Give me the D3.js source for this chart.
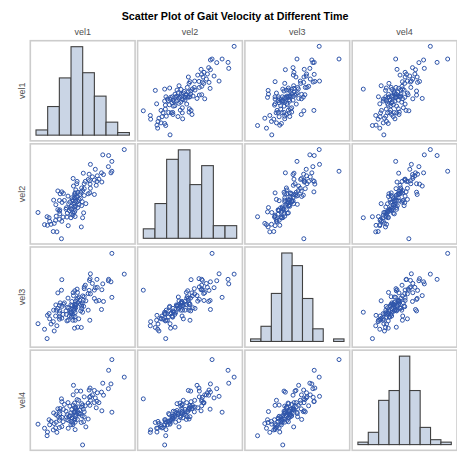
<!DOCTYPE html>
<html><head><meta charset="utf-8">
<script src="https://cdn.jsdelivr.net/npm/d3@7"></script>
<style>body{margin:0;background:#fff} svg{display:block}</style>
</head><body><svg id="c" width="457" height="453"></svg>
<script>
const variables = ["vel1","vel2","vel3","vel4"];
const title = "Scatter Plot of Gait Velocity at Different Time";

const vel1 = [115.6,105.0,105.0,104.2,102.2,102.0,97.8,97.2,96.4,96.1,
93.9,92.5,92.2,91.6,90.8,90.0,90.0,88.3,86.6,86.6,
86.3,86.1,85.8,85.5,84.7,84.7,82.7,82.2,81.3,81.3,
81.3,80.8,80.5,79.9,79.6,79.1,79.1,78.8,78.3,76.9,
76.6,75.7,75.5,75.2,74.9,74.1,73.5,73.5,73.5,73.5,
73.2,73.2,73.0,73.0,73.0,72.1,71.8,71.8,71.6,70.7,
70.4,70.2,69.9,69.9,69.0,68.5,67.6,67.4,66.8,66.5,
65.7,64.3,63.5,63.2,62.3,62.1,62.1,61.8,60.7,60.4,
60.4,60.1,60.1,60.1,58.7,58.7,57.9,57.3,57.0,56.8,
55.6,55.1,54.8,52.9,51.7,51.2,49.8,49.5,47.3,41.7,
76.0,74.5,72.5,71.0,77.5,69.5,73.8,75.8,68.0,78.0,66.0,80.0,71.5,74.0];

const vel2 = [117.8,98.9,107.5,97.5,112.6,102.9,96.0,113.2,89.5,97.5,
92.0,94.9,90.0,86.6,100.6,91.2,78.6,94.0,84.0,104.9,
87.7,80.0,90.6,96.3,91.7,79.2,70.6,90.0,77.7,83.7,
88.0,62.6,97.2,58.3,72.3,68.9,84.3,50.3,80.6,70.0,
74.3,67.2,76.9,90.0,88.0,82.6,64.9,67.7,80.0,59.4,
78.0,79.2,63.4,71.4,75.7,86.0,73.2,92.6,60.6,75.7,
65.7,61.4,58.3,68.3,72.0,64.6,51.4,77.2,62.3,58.9,
65.7,73.4,79.5,58.9,71.7,55.2,80.9,40.0,79.2,61.7,
65.2,56.9,64.0,73.4,65.4,81.7,46.0,59.7,69.7,56.0,
53.4,73.7,46.3,52.6,55.2,58.3,51.7,59.2,52.3,62.9,
72.5,76.5,70.0,74.0,78.5,66.5,68.8,80.5,70.5,75.0,67.0,82.0,63.0,73.0];

const vel3 = [101.1,120.2,79.7,94.0,96.3,95.0,75.9,92.1,86.7,68.5,
76.8,88.9,96.3,76.2,88.6,86.4,78.7,92.5,82.9,101.4,
96.9,58.6,95.3,86.1,83.2,67.9,76.5,90.9,80.3,87.7,
89.3,71.4,76.8,66.0,74.6,71.7,69.5,51.9,67.2,80.0,
59.9,52.2,84.2,87.3,77.8,70.1,61.8,65.6,73.3,58.6,
85.8,69.8,51.3,71.1,67.9,81.3,62.5,84.0,58.6,75.9,
66.3,61.5,64.7,72.7,67.9,62.5,58.6,79.0,70.4,58.0,
67.2,74.6,73.3,64.0,71.4,60.5,96.0,86.3,74.6,67.2,
61.5,59.6,65.3,72.3,69.5,83.8,53.5,67.9,72.7,62.5,
48.7,67.9,57.3,55.1,59.9,64.7,63.1,41.7,50.3,55.4,
75.0,73.0,69.0,72.0,77.0,66.0,71.8,79.0,70.0,73.5,64.0,81.0,64.5,76.0];

const vel4 = [104.8,121.5,71.4,98.3,111.3,93.8,87.6,99.0,72.7,90.5,
80.5,89.9,81.8,75.6,85.0,80.5,92.1,87.9,82.7,86.5,
94.4,77.9,85.6,92.5,80.1,64.9,57.4,77.5,67.1,71.7,
86.0,62.3,74.3,40.2,67.8,79.5,76.2,61.6,91.5,70.1,
82.7,72.0,64.5,83.4,91.5,76.2,65.2,61.9,67.1,54.8,
72.0,75.6,64.2,80.1,71.7,97.0,78.2,87.9,59.4,74.0,
65.8,62.6,59.4,70.7,77.2,67.5,56.1,80.5,69.1,64.2,
72.3,78.8,74.0,62.3,66.5,57.7,81.4,84.1,74.9,70.1,
65.8,56.8,63.6,72.3,67.5,74.6,52.2,61.9,69.1,56.4,
60.6,70.7,54.5,62.6,59.4,64.2,52.5,49.0,56.1,60.0,
70.0,68.5,71.0,66.0,73.5,68.0,73.0,76.5,63.5,69.5,66.8,78.0,61.0,74.5];

// histogram bins (start, width) and counts
const binStart = [40, 40, 35, 35];
const binWidth = [10, 10, 10, 10];
const hist1 = [2, 11, 22, 34, 24, 15, 5, 1];
const hist2 = [3, 11, 25, 28, 17, 23, 4, 4];
const hist3 = [1, 6, 19, 35, 30, 17, 5, 0, 1];
const hist4 = [1, 5, 18, 22, 36, 22, 7, 2, 1];
// vertical axis ranges of each row (data units)
const rowDomain = [[36.7, 120.3], [35.4, 122.8], [33.8, 126.1], [35.1, 130.5]];

const series = [vel1, vel2, vel3, vel4];
const hists = [hist1, hist2, hist3, hist4];
const records = vel1.map((d, i) => series.map(s => s[i]));

const svg = d3.select("#c");
const FONT = "'Liberation Sans', Arial, Helvetica, sans-serif";

const colBand = d3.scaleBand().domain(variables).range([30.3, 457]).paddingInner(0.0233);
const rowBand = d3.scaleBand().domain(variables).range([40.7, 450.3]).paddingInner(0.029);
const W = colBand.bandwidth(), H = rowBand.bandwidth();
const inset = 5.7;

const xScales = variables.map((v, j) => {
  const n = hists[j].length;
  const l = colBand(v);
  return d3.scaleLinear().domain([binStart[j], binStart[j] + n * binWidth[j]]).range([l + inset, l + W - inset]);
});
const yScales = variables.map((v, i) => {
  const t = rowBand(v);
  return d3.scaleLinear().domain(rowDomain[i]).range([t + H, t]);
});

svg.append("text").attr("x", 235).attr("y", 19.5).attr("text-anchor", "middle")
  .attr("font-family", FONT).attr("font-weight", "bold").attr("font-size", "10.7px")
  .attr("fill", "#000").text(title);

variables.forEach(v => {
  svg.append("text").attr("x", colBand(v) + W / 2).attr("y", 35).attr("text-anchor", "middle")
    .attr("font-family", FONT).attr("font-size", "9px").attr("fill", "#505050").text(v);
  svg.append("text").attr("transform", `translate(25,${rowBand(v) + H / 2}) rotate(-90)`)
    .attr("text-anchor", "middle").attr("font-family", FONT).attr("font-size", "9px")
    .attr("fill", "#505050").text(v);
});

variables.forEach((rv, i) => {
  variables.forEach((cv, j) => {
    const l = colBand(cv), t = rowBand(rv);
    const g = svg.append("g");
    g.append("rect").attr("x", l).attr("y", t).attr("width", W).attr("height", H)
      .attr("fill", "#fff").attr("stroke", "#cccccc").attr("stroke-width", 1.6);
    if (i === j) {
      const counts = hists[j];
      const hy = d3.scaleLinear().domain([0, d3.max(counts)]).range([t + H - 5.7, t + 6]);
      const bins = counts.map((c, k) => ({x0: binStart[j] + k * binWidth[j], x1: binStart[j] + (k + 1) * binWidth[j], c}));
      g.selectAll("rect.bar").data(bins.filter(b => b.c > 0)).join("rect").attr("class", "bar")
        .attr("x", b => xScales[j](b.x0)).attr("width", b => xScales[j](b.x1) - xScales[j](b.x0))
        .attr("y", b => hy(b.c)).attr("height", b => hy(0) - hy(b.c))
        .attr("fill", "#cad5e5").attr("stroke", "#404040").attr("stroke-width", 1.1);
    } else {
      g.selectAll("circle").data(records).join("circle")
        .attr("cx", d => xScales[j](d[j])).attr("cy", d => yScales[i](d[i]))
        .attr("r", 2).attr("fill", "none").attr("stroke", "#2f55aa").attr("stroke-width", 1);
    }
  });
});
</script></body></html>
